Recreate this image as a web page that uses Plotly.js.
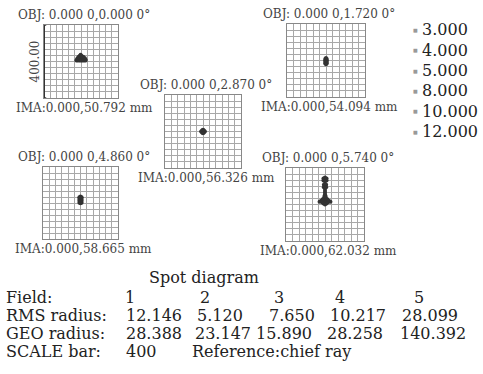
<!DOCTYPE html>
<html>
<head>
<meta charset="utf-8">
<script src="https://cdn.plot.ly/plotly-3.0.1.min.js"></script>
<style>html,body{margin:0;padding:0;background:#fff;}#chart{width:483px;height:374px;}</style>
</head>
<body>
<div id="chart"></div>
<script>
// ---- data ----
const wavelengths = ['3.000', '4.000', '5.000', '8.000', '10.000', '12.000'];
const fieldNums = ['1', '2', '3', '4', '5'];
const rmsRadius = ['12.146', '5.120', '7.650', '10.217', '28.099'];
const geoRadius = ['28.388', '23.147', '15.890', '28.258', '140.392'];
const objLabels = ['OBJ: 0.000 0,0.000 0°', 'OBJ: 0.000 0,1.720 0°', 'OBJ: 0.000 0,2.870 0°', 'OBJ: 0.000 0,4.860 0°', 'OBJ: 0.000 0,5.740 0°'];
const imaLabels = ['IMA:0.000,50.792 mm', 'IMA:0.000,54.094 mm', 'IMA:0.000,56.326 mm', 'IMA:0.000,58.665 mm', 'IMA:0.000,62.032 mm'];
const scaleBar = 400;           // µm
const reference = 'Reference:chief ray';

// spot points (µm, relative to chief ray)
const spot1X = [-25,-18,-10,-3,4,11,18,25, -22,-14,-6,2,10,18,24, -18,-10,-2,6,14,20, -12,-4,4,12, -6,2, -2];
const spot1Y = [5,5,5,5,5,5,5,5, 12,12,12,12,12,12,12, 19,19,19,19,19,19, 26,26,26,26, 32,32, 37];
const spot2X = [-4,4,-4,4,-4,4,-4,4,0,0];
const spot2Y = [-16,-16,-8,-8,0,0,8,8,14,-20];
const spot3X = [0,-7,7,0,0,-5,5,-5,5,-10,10,0,0];
const spot3Y = [0,0,0,7,-7,5,5,-5,-5,0,0,10,-10];
const spot4X = [0,-6,6,-6,6,0,0, -6,6,-6,6,0,0];
const spot4Y = [36,32,32,22,22,18,28, 12,12,2,2,-2,7];
const spot5X = [0,-8,8,-8,8,0, -6,6,0,-6,6, 0,0,0,0,-3,3,0, -5,5,-12,12,-20,-10,0,10,20,-28,28,-15,15,0,-8,8,0];
const spot5Y = [148,142,142,132,132,126, 108,108,100,94,94, 86,76,66,56,46,46,40, 36,36,29,29,21,21,21,21,21,15,15,12,12,10,5,5,0];

const spotsX = [spot1X, spot2X, spot3X, spot4X, spot5X];
const spotsY = [spot1Y, spot2Y, spot3Y, spot4Y, spot5Y];

// ---- layout helpers (pixel boxes of the five panels) ----
const W = 483, H = 374;
const boxes = [
  [44, 25, 118, 98],
  [287, 24, 365, 97],
  [165, 95, 241, 168],
  [43, 167, 118, 239],
  [286, 168, 364, 241]
];
const px = v => v / W;
const py = v => 1 - v / H;
const FONT = 'DejaVu Serif, Liberation Serif, serif';

const traces = [];
const layout = {
  width: W, height: H,
  margin: {l: 0, r: 0, t: 0, b: 0},
  paper_bgcolor: '#ffffff', plot_bgcolor: '#ffffff',
  showlegend: false,
  font: {family: FONT, color: '#222'},
  annotations: [], shapes: []
};

const half = scaleBar / 2;
const nDiv = 12;
boxes.forEach((b, i) => {
  const n = i === 0 ? '' : String(i + 1);
  const xa = 'xaxis' + n, ya = 'yaxis' + n;
  const axCommon = {
    range: [-half, half], showticklabels: false, ticks: '',
    showgrid: true, gridcolor: '#a8a8a8', gridwidth: 1,
    tick0: -half, dtick: scaleBar / nDiv, zeroline: false,
    showline: true, mirror: true, linecolor: '#888', linewidth: 1, fixedrange: true
  };
  layout[xa] = Object.assign({}, axCommon, {domain: [px(b[0]), px(b[2])], anchor: 'y' + n});
  layout[ya] = Object.assign({}, axCommon, {domain: [py(b[3]), py(b[1])], anchor: 'x' + n});
  traces.push({
    type: 'scatter', mode: 'markers',
    x: spotsX[i], y: spotsY[i],
    xaxis: 'x' + n, yaxis: 'y' + n,
    marker: {size: 4, color: '#333', line: {width: 0}},
    hoverinfo: 'skip'
  });
  const cx = (b[0] + b[2]) / 2;
  layout.annotations.push({
    xref: 'paper', yref: 'paper', x: px(cx + 3), y: py(b[1] - 10),
    text: objLabels[i], showarrow: false, xanchor: 'center', yanchor: 'middle',
    font: {family: FONT, size: 12, color: '#444'}
  });
  layout.annotations.push({
    xref: 'paper', yref: 'paper', x: px(cx + 3), y: py(b[3] + 10),
    text: imaLabels[i], showarrow: false, xanchor: 'center', yanchor: 'middle',
    font: {family: FONT, size: 12, color: '#444'}
  });
});

// scale bar on the first panel
layout.shapes.push({type: 'line', xref: 'x', yref: 'y', x0: -half, x1: -half, y0: -half, y1: half, line: {color: '#333', width: 2}});
layout.shapes.push({type: 'line', xref: 'x', yref: 'y', x0: -half - 12, x1: -half + 12, y0: half, y1: half, line: {color: '#333', width: 1.5}});
layout.shapes.push({type: 'line', xref: 'x', yref: 'y', x0: -half - 12, x1: -half + 12, y0: -half, y1: -half, line: {color: '#333', width: 1.5}});
layout.annotations.push({
  xref: 'paper', yref: 'paper', x: px(boxes[0][0] - 10), y: py((boxes[0][1] + boxes[0][3]) / 2),
  text: scaleBar.toFixed(2), textangle: -90, showarrow: false, xanchor: 'center', yanchor: 'middle',
  font: {family: FONT, size: 12, color: '#444'}
});

// wavelength legend
wavelengths.forEach((w, k) => {
  const yy = 30 + k * 20.3;
  layout.annotations.push({
    xref: 'paper', yref: 'paper', x: px(415), y: py(yy), text: '■', showarrow: false,
    xanchor: 'center', yanchor: 'middle', font: {family: FONT, size: 5, color: '#999'}
  });
  layout.annotations.push({
    xref: 'paper', yref: 'paper', x: px(420), y: py(yy), text: w, showarrow: false,
    xanchor: 'left', yanchor: 'middle', font: {family: FONT, size: 16, color: '#222'}
  });
});

// summary table
const tFont = {family: FONT, size: 16, color: '#222'};
const addText = (x, y, t, anchor) => layout.annotations.push({
  xref: 'paper', yref: 'paper', x: px(x), y: py(y), text: t, showarrow: false,
  xanchor: anchor || 'left', yanchor: 'middle', font: tFont
});
addText(204, 277, 'Spot diagram', 'center');
const rowY = [297, 315, 333, 351];
const fieldX = [123, 198, 272, 333, 412];
const rmsX = [124, 195, 267, 328, 400];
const geoX = [124, 193, 254, 325, 398];
addText(4, rowY[0], 'Field:');
addText(4, rowY[1], 'RMS radius:');
addText(4, rowY[2], 'GEO radius:');
addText(4, rowY[3], 'SCALE bar:');
fieldNums.forEach((f, i) => addText(fieldX[i], rowY[0], f));
rmsRadius.forEach((v, i) => addText(rmsX[i], rowY[1], v));
geoRadius.forEach((v, i) => addText(geoX[i], rowY[2], v));
addText(124, rowY[3], String(scaleBar));
addText(190, rowY[3], reference);

Plotly.newPlot('chart', traces, layout, {staticPlot: true, displayModeBar: false});
</script>
</body>
</html>
